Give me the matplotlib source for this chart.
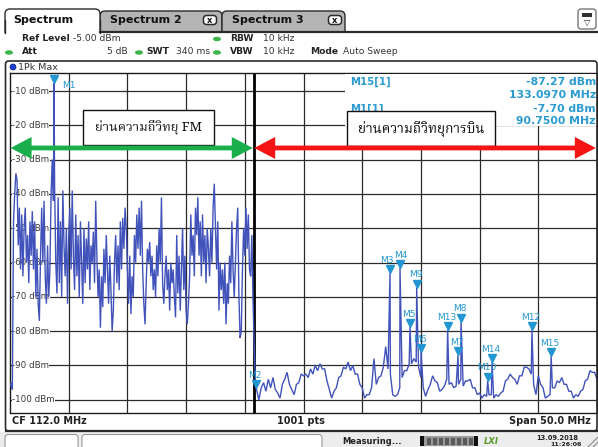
import numpy as np
import matplotlib
matplotlib.use("Agg")
import matplotlib.pyplot as plt
from matplotlib import font_manager as fm
from matplotlib.patches import Rectangle, FancyBboxPatch, Polygon, Ellipse, Circle
from matplotlib.transforms import offset_copy

# ------------------------------------------------------------------ data
# FM segment of the trace: 87.0 MHz .. 107.9 MHz, one sample every 0.1 MHz
fm_start_mhz = 87.0
fm_step_mhz = 0.1
fm_levels = [
    -96, -95, -97, -48, -40, -34, -36, -55, -44, -62,   # 87
    -46, -64, -50, -44, -60, -52, -66, -48, -58, -45,   # 88
    -62, -48, -70, -56, -72, -77, -58, -44, -60, -42,   # 89
    -64, -72, -55, -70, -62, -40, -30, -42, -38, -60,   # 90
    -69, -41, -66, -48, -70, -39, -55, -64, -50, -72,   # 91
    -52, -44, -62, -39, -58, -68, -46, -64, -52, -70,   # 92
    -48, -60, -72, -50, -66, -53, -62, -48, -68, -55,   # 93
    -60, -51, -66, -42, -58, -70, -62, -79, -64, -73,   # 94
    -56, -66, -52, -62, -72, -58, -68, -80, -74, -60,   # 95
    -52, -66, -55, -68, -48, -62, -47, -56, -44, -50,   # 96
    -62, -72, -58, -75, -64, -70, -52, -60, -46, -56,   # 97
    -44, -58, -42, -62, -72, -78, -66, -56, -60, -54,   # 98
    -64, -58, -68, -62, -70, -55, -64, -50, -60, -41,   # 99
    -66, -72, -64, -58, -68, -62, -74, -60, -66, -62,   # 100
    -70, -76, -52, -69, -58, -74, -62, -50, -68, -58,   # 101
    -74, -78, -72, -64, -46, -58, -52, -64, -44, -52,   # 102
    -41, -58, -48, -64, -46, -60, -52, -66, -50, -56,   # 103
    -64, -50, -60, -44, -37, -50, -62, -48, -74, -60,   # 104
    -68, -62, -72, -60, -78, -66, -72, -58, -66, -48,   # 105
    -62, -70, -60, -50, -44, -70, -82, -80, -62, -50,   # 106
    -58, -44, -56, -46, -62, -64, -52, -71, -84, -95,   # 107
]

# Aviation segment of the trace: 108.0 MHz .. 137.0 MHz, one sample every 0.2 MHz
air_start_mhz = 108.0
air_step_mhz = 0.2
air_levels = [
    -97, -100, -96.5, -95, -97.5, -94, -96.5, -93.5, -97, -98,          # 108-109.8
    -99.5, -95.5, -94, -92, -95.5, -97, -98.5, -95.5, -95, -92.5,       # 110
    -93, -92.5, -93.5, -91, -92.5, -90, -91.5, -89.5, -91, -91,         # 112
    -94.5, -97, -99.5, -97.5, -96.5, -93.5, -93, -90.5, -91, -89,       # 114
    -91.5, -90, -92.5, -92.5, -95.5, -96.5, -99.5, -98.5, -98.5, -96.5, # 116
    -88, -95.5, -93.5, -93, -90.5, -84.5, -91, -92.5, -98.5, -99,       # 118
    -98.5, -96.5, -93.5, -91.5, -91.5, -89.5, -89.5, -88, -89, -90.5,   # 120
    -93.5, -96.5, -99, -97, -95.5, -93, -94.5, -95, -97.5, -97,         # 122
    -96, -94, -95.5, -95, -96.5, -96, -95.5, -94, -96, -94.5,           # 124
    -94.5, -94, -96.5, -96.5, -98.5, -98, -99.5, -98.5, -99, -98.5,     # 126
    -98.5, -99.5, -98.5, -99, -98, -97.5, -94.5, -94, -92.5, -93.5,     # 128
    -94, -95.5, -93, -93, -90.5, -90.5, -91, -92.5, -95.5, -98.5,       # 130
    -93, -95.5, -96.5, -99.5, -99, -98.5, -96.5, -96.5, -94.5, -95,     # 132
    -93.5, -95.5, -95.5, -97.5, -97.5, -99.5, -98.5, -99, -97.5, -97,   # 134
    -94.5, -94, -91.5, -92, -92, -94,                                   # 136-137
]

# Markers (peak points of the trace)
marker_names = ["M1", "M2", "M3", "M4", "M5", "M6", "M7", "M8",
                "M9", "M10", "M12", "M13", "M14", "M15"]
marker_freqs = [90.75, 107.95, 119.37, 120.22, 121.07, 122.01, 125.16, 125.42,
                121.64, 127.69, 131.46, 124.28, 128.06, 133.097]
marker_levels = [-7.70, -96.6, -63.1, -61.6, -78.8, -86.1, -87.0, -77.3,
                 -67.4, -94.5, -79.7, -79.7, -89.0, -87.27]

# Axis definition
x_range_mhz = (87.0, 137.0)          # CF 112.0 MHz, span 50 MHz
y_grid_dbm = [-10, -20, -30, -40, -50, -60, -70, -80, -90, -100]
y_grid_labels = ["-10 dBm", "-20 dBm", "-30 dBm", "-40 dBm", "-50 dBm",
                 "-60 dBm", "-70 dBm", "-80 dBm", "-90 dBm", "-100 dBm"]
x_grid_mhz = [92, 97, 102, 107, 112, 117, 122, 127, 132]
band_split_mhz = 107.8

fm_band = (87.0, 107.8)
air_band = (107.8, 137.0)
band_labels = ["ย่านความถี่วิทยุ FM", "ย่านความถี่วิทยุการบิน"]

readout_names = ["M15[1]", "M1[1]"]
readout_levels = ["-87.27 dBm", "-7.70 dBm"]
readout_freqs = ["133.0970 MHz", "90.7500 MHz"]

# ------------------------------------------------------------------ fonts
def find_thai_font():
    try:
        from fontTools.ttLib import TTFont
    except Exception:
        return None
    need = [0x0E22, 0x0E48, 0x0E32, 0x0E19, 0x0E34, 0x0E35]
    cands = []
    seen = set()
    for f in fm.fontManager.ttflist:
        if f.name in seen:
            continue
        seen.add(f.name)
        try:
            tt = TTFont(f.fname, fontNumber=0, lazy=True)
            cmap = tt.getBestCmap() or {}
            tt.close()
        except Exception:
            continue
        if all(c in cmap for c in need):
            score = 0
            if "thai" in f.name.lower():
                score -= 2
            if "serif" in f.name.lower():
                score -= 1
            cands.append((score, f.name))
    if not cands:
        return None
    cands.sort()
    return cands[0][1]

thai_font = find_thai_font()
ui_font = "DejaVu Sans"
thai_family = [thai_font, ui_font] if thai_font else ["Noto Sans", ui_font]
plt.rcParams["font.family"] = [ui_font]

# ------------------------------------------------------------------ figure
W, H = 598, 447
fig = plt.figure(figsize=(W / 100, H / 100), dpi=100)
fig.patch.set_facecolor("white")

PL, PR, PT, PB = 10.0, 597.0, 73.0, 412.5
ax = fig.add_axes([PL / W, 1 - PB / H, (PR - PL) / W, (PB - PT) / H])
ax.set_xlim(*x_range_mhz)
ax.set_ylim(-103.7, -4.75)
ax.set_xticks([])
ax.set_yticks([])
for s in ax.spines.values():
    s.set_color("#1a1a1a")
    s.set_linewidth(1.0)

GRID = "#2b2b2b"
for xv in x_grid_mhz:
    ax.axvline(xv, color=GRID, lw=0.9, zorder=1)
for yv, lab in zip(y_grid_dbm, y_grid_labels):
    ax.axhline(yv, color=GRID, lw=0.9, zorder=1)
    ax.text(87.17, yv, lab, ha="left", va="center", fontsize=6.3, color="#3a3a3a",
            zorder=2, bbox=dict(boxstyle="square,pad=0.05", fc="white", ec="none"))
ax.axvline(band_split_mhz, color="#000000", lw=2.0, zorder=2.5)

# trace
fm_freqs = fm_start_mhz + fm_step_mhz * np.arange(len(fm_levels))
air_freqs = air_start_mhz + air_step_mhz * np.arange(len(air_levels))
all_f = np.concatenate([fm_freqs, air_freqs, marker_freqs])
all_l = np.concatenate([fm_levels, air_levels, marker_levels])
order = np.argsort(all_f, kind="stable")
ax.plot(all_f[order], all_l[order], color="#4153bb", lw=1.0, zorder=3,
        solid_joinstyle="miter")

# markers
MCOL = "#2196d0"
tri_tr = offset_copy(ax.transData, fig=fig, x=0, y=4, units="dots")
ax.plot(marker_freqs, marker_levels, ls="none", marker="v", ms=5.2,
        mfc=MCOL, mec=MCOL, transform=tri_tr, zorder=4)
label_offsets = {"M1": (15, -2), "M3": (-3, 13), "M4": (1, 13)}
for name, f, l in zip(marker_names, marker_freqs, marker_levels):
    dx, dy = label_offsets.get(name, (-1, 13))
    tr = offset_copy(ax.transData, fig=fig, x=dx, y=dy, units="dots")
    ax.text(f, l, name, transform=tr, ha="center", va="center",
            fontsize=6.5, color=MCOL, zorder=4)

# ------------------------------------------------------------------ overlay (pixel coords)
ov = fig.add_axes([0, 0, 1, 1], zorder=5)
ov.set_xlim(0, W)
ov.set_ylim(H, 0)
ov.axis("off")
ov.patch.set_alpha(0)

DARK = "#2a2a2a"

# readout area
ov.add_patch(Rectangle((345, 73.7), 251.6, 52.8, fc="white", ec="none", zorder=1))
RCOL = "#2a9ad0"
readout_rows = [82, 108.5]
for y0, n, lv, fq in zip(readout_rows, readout_names, readout_levels, readout_freqs):
    ov.text(350, y0, n, fontsize=7.3, color=RCOL, weight="bold", ha="left", va="center", zorder=2)
    ov.text(596, y0, lv, fontsize=7.8, color=RCOL, weight="bold", ha="right", va="center", zorder=2)
    ov.text(596, y0 + 13, fq, fontsize=7.8, color=RCOL, weight="bold", ha="right", va="center", zorder=2)

# band boxes with Thai labels
renderer = fig.canvas.get_renderer()
boxes = [(83, 110, 131, 35, 107), (347, 111, 148, 35, 127)]
for (bx, by, bw, bh, tw), lab in zip(boxes, band_labels):
    ov.add_patch(Rectangle((bx, by), bw, bh, fc="white", ec="#111111", lw=1.0, zorder=6))
    t = ov.text(bx + bw / 2, by + bh / 2 + 0.5, lab, ha="center", va="center",
                fontsize=11, family=thai_family, color="#111111", zorder=7)
    w = t.get_window_extent(renderer=renderer).width
    if w > 0:
        t.set_fontsize(11 * tw / w)

# double arrows (drawn in data coords of the spectrum axes)
px_per_mhz = (PR - PL) / (x_range_mhz[1] - x_range_mhz[0])
px_per_db = (PB - PT) / (103.7 - 4.75)
arrow_level = -26.6
head_len = 21 / px_per_mhz
head_hw = 11 / px_per_db
shaft_hw = 2.4 / px_per_db

def double_arrow(x0, x1, color):
    y = arrow_level
    verts = [
        (x0, y),
        (x0 + head_len, y + head_hw),
        (x0 + head_len, y + shaft_hw),
        (x1 - head_len, y + shaft_hw),
        (x1 - head_len, y + head_hw),
        (x1, y),
        (x1 - head_len, y - head_hw),
        (x1 - head_len, y - shaft_hw),
        (x0 + head_len, y - shaft_hw),
        (x0 + head_len, y - head_hw),
    ]
    ov.add_patch(Polygon(verts, closed=True, fc=color, ec="none",
                         transform=ax.transData, zorder=8))

double_arrow(fm_band[0] + 0.05, fm_band[1] - 0.12, "#1aae4c")
double_arrow(air_band[0] + 0.0, air_band[1] - 0.1, "#f41414")

# ------------------------------------------------------------------ instrument chrome
# tabs
def tab(x, w, fc, top):
    ov.add_patch(FancyBboxPatch((x, top), w, 40 - top, boxstyle="round,pad=0,rounding_size=5",
                                fc=fc, ec=DARK, lw=1.0, zorder=1))

tab(100, 122, "#b4b4b4", 11)
tab(222, 123, "#b4b4b4", 11)
tab(5, 95, "white", 9)
# header area (white) hides the lower corners of the tabs
ov.add_patch(Rectangle((0, 32.5), W, 28, fc="white", ec="none", zorder=1.5))
ov.add_patch(Rectangle((6, 28), 93, 5, fc="white", ec="none", zorder=1.5))
ov.plot([100, W], [32, 32], color=DARK, lw=1.6, zorder=2)
ov.plot([5, 5], [20, 33], color=DARK, lw=1.0, zorder=2)
ov.plot([100, 100], [20, 33], color=DARK, lw=1.0, zorder=2)

ov.text(13, 20, "Spectrum", fontsize=8, weight="bold", color="#111", va="center", zorder=3)
ov.text(110, 20, "Spectrum 2", fontsize=8, weight="bold", color="#111", va="center", zorder=3)
ov.text(232, 20, "Spectrum 3", fontsize=8, weight="bold", color="#111", va="center", zorder=3)
for cx in (210, 335):
    ov.add_patch(FancyBboxPatch((cx - 6.5, 15.5), 13, 9, boxstyle="round,pad=0,rounding_size=3",
                                fc="white", ec=DARK, lw=1.1, zorder=3))
    ov.text(cx, 20.3, "x", fontsize=6, weight="bold", ha="center", va="center", color="#111", zorder=4)

# top-right icon
ov.add_patch(FancyBboxPatch((578, 9), 18, 20, boxstyle="round,pad=0,rounding_size=3",
                            fc="white", ec="#777", lw=1.0, zorder=3))
ov.add_patch(Rectangle((582, 13), 10, 3.5, fc="#333", ec="none", zorder=4))
ov.text(587, 22.5, "▽", fontsize=6, ha="center", va="center", color="#333", zorder=4)

# header rows
GREEN = "#3cb44a"
def pill(x, y):
    ov.add_patch(Ellipse((x, y), 8, 4.5, fc=GREEN, ec="none", zorder=3))

HF = 6.6
hy1, hy2 = 38.5, 52
ov.text(22, hy1, "Ref Level", fontsize=HF, weight="bold", color="#222", va="center", zorder=3)
ov.text(73, hy1, "-5.00 dBm", fontsize=HF, color="#333", va="center", zorder=3)
pill(217, hy1 + 0.5)
ov.text(230, hy1, "RBW", fontsize=HF, weight="bold", color="#222", va="center", zorder=3)
ov.text(263, hy1, "10 kHz", fontsize=HF, color="#333", va="center", zorder=3)

pill(9, hy2 + 0.5)
ov.text(22, hy2, "Att", fontsize=HF, weight="bold", color="#222", va="center", zorder=3)
ov.text(128, hy2, "5 dB", fontsize=HF, color="#333", va="center", ha="right", zorder=3)
pill(139, hy2 + 0.5)
ov.text(146, hy2, "SWT", fontsize=HF, weight="bold", color="#222", va="center", zorder=3)
ov.text(176, hy2, "340 ms", fontsize=HF, color="#333", va="center", zorder=3)
pill(217, hy2 + 0.5)
ov.text(230, hy2, "VBW", fontsize=HF, weight="bold", color="#222", va="center", zorder=3)
ov.text(263, hy2, "10 kHz", fontsize=HF, color="#333", va="center", zorder=3)
ov.text(310, hy2, "Mode", fontsize=HF, weight="bold", color="#222", va="center", zorder=3)
ov.text(343, hy2, "Auto Sweep", fontsize=HF, color="#333", va="center", zorder=3)

# diagram frame
ov.add_patch(FancyBboxPatch((5.5, 61), 591.5, 370, boxstyle="round,pad=0,rounding_size=3",
                            fc="none", ec=DARK, lw=1.2, zorder=3))
ov.add_patch(Circle((13, 67), 3, fc="#1f3fd0", ec="#0a1a80", lw=0.5, zorder=3))
ov.text(18, 67, "1Pk Max", fontsize=6.8, color="#333", va="center", zorder=3)

# bottom info bar
ov.plot([5.5, 597], [430.5, 430.5], color=DARK, lw=1.6, zorder=3)
ov.text(12, 421.5, "CF 112.0 MHz", fontsize=7, weight="bold", color="#222", va="center", zorder=3)
ov.text(301, 421.5, "1001 pts", fontsize=7, weight="bold", color="#222", va="center", ha="center", zorder=3)
ov.text(591, 421.5, "Span 50.0 MHz", fontsize=7, weight="bold", color="#222", va="center", ha="right", zorder=3)

# status bar
ov.add_patch(Rectangle((0, 432), W, 15, fc="#ececec", ec="none", zorder=1))
ov.add_patch(FancyBboxPatch((5, 434.5), 73, 16, boxstyle="round,pad=0,rounding_size=3",
                            fc="white", ec="#999", lw=0.8, zorder=2))
ov.add_patch(FancyBboxPatch((82, 434.5), 240, 16, boxstyle="round,pad=0,rounding_size=3",
                            fc="white", ec="#999", lw=0.8, zorder=2))
ov.text(342, 441.5, "Measuring...", fontsize=6, weight="bold", color="#222", va="center", zorder=3)
ov.add_patch(Rectangle((420, 436), 58, 10, fc="#9a9a9a", ec="none", zorder=3))
ov.add_patch(Rectangle((420, 436), 4, 10, fc="#111", ec="none", zorder=4))
ov.add_patch(Rectangle((474, 436), 4, 10, fc="#111", ec="none", zorder=4))
for sx in range(427, 472, 6):
    ov.add_patch(Rectangle((sx, 437.5), 3.5, 7, fc="#5a5a5a", ec="none", zorder=4))
ov.text(491, 441, "LXI", fontsize=6, weight="bold", style="italic", color="#5a9a2a",
        ha="center", va="center", zorder=3)
ov.text(557, 437.5, "13.09.2018", fontsize=4.8, weight="bold", color="#222", ha="center",
        va="center", zorder=3)
ov.text(566, 445, "11:26:06", fontsize=4.5, weight="bold", color="#222", ha="center",
        va="center", zorder=3)
ov.plot([588, 598], [447, 437], color="#888", lw=0.8, zorder=3)
ov.plot([593, 598], [447, 442], color="#888", lw=0.8, zorder=3)

fig.savefig("out.png", dpi=100, facecolor="white")
